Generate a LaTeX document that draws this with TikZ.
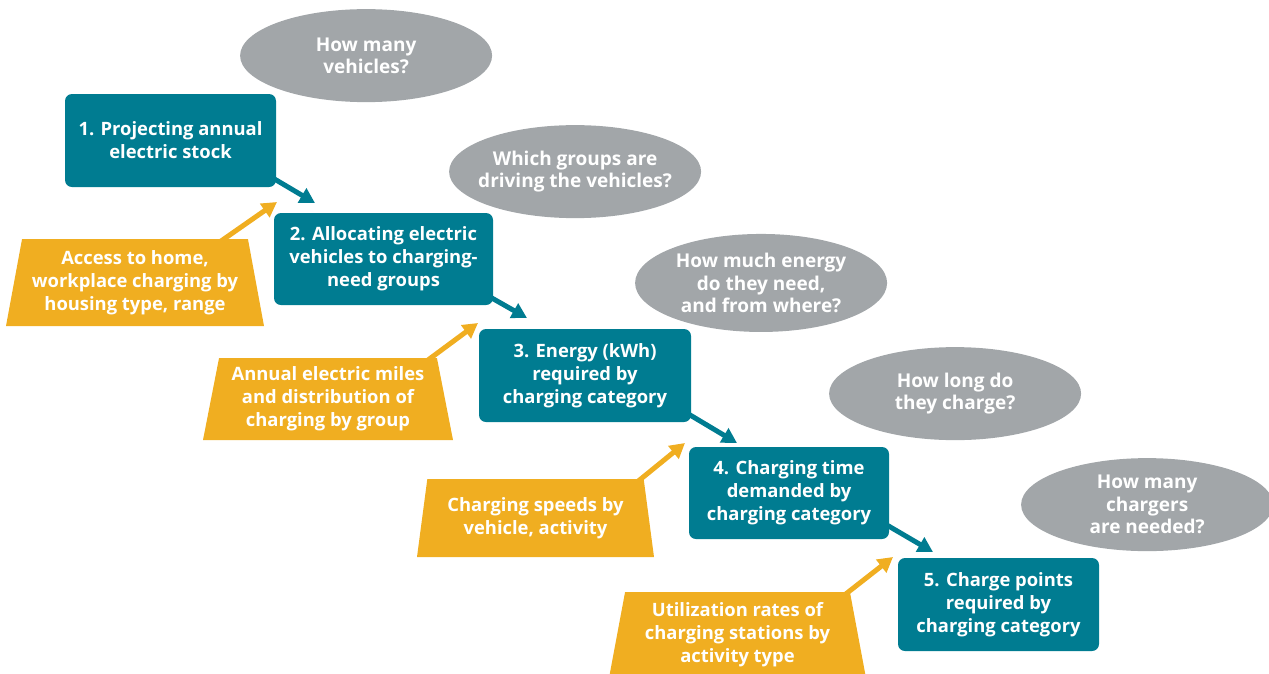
\documentclass[tikz,border=0pt]{standalone}
\usepackage{fontspec}
\setmainfont{Open Sans}
\usetikzlibrary{positioning, shapes.geometric, arrows.meta}
\definecolor{stepteal}{RGB}{0,124,145}
\definecolor{askgray}{RGB}{162,166,169}
\definecolor{inputgold}{RGB}{240,174,33}
\tikzset{
	every node/.append style={
		inner sep=0pt,
		outer sep=0pt,
		text=white,
		align=center,
		font={\fontsize{18.4}{23}\selectfont\bfseries},
	},
	stepbox/.append style={
		fill=stepteal,
		rounded corners=7pt,
		minimum height=93pt,
	},
	askbubble/.append style={
		ellipse,
		fill=askgray,
		minimum width=252pt,
		minimum height=93pt,
		inner xsep=-18pt,
		font={\fontsize{19}{22.5}\selectfont\bfseries},
	},
	inputbox/.append style={
		trapezium,
		trapezium stretches body=true,
		trapezium left angle=76,
		trapezium right angle=76,
		fill=inputgold,
	},
	flow/.append style={
		draw=stepteal,
		line width=5pt,
		-{Triangle[width=16pt,length=15pt]},
	},
	feed/.append style={
		draw=inputgold,
		line width=5pt,
		-{Triangle[width=16pt,length=15pt]},
	},
}

\begin{document}
\begin{tikzpicture}[x=1pt,y=-1pt]
\useasboundingbox (0,0) rectangle (1269,673);

% the five steps
\node(proj)[stepbox, minimum width=211pt] at (170.5,140.5) {1. Projecting annual\\electric stock};
\node(alloc)[stepbox, minimum width=219pt, minimum height=92pt, below right=26pt and -2pt of proj] {2. Allocating electric\\vehicles to charging-\\need groups};
\node(energy)[stepbox, minimum width=212pt, below right=24pt and -14pt of alloc] {3. Energy (kWh)\\required by\\charging category};
\node(time)[stepbox, minimum width=200pt, minimum height=92pt, below right=25pt and -2pt of energy] {4. Charging time\\demanded by\\charging category};
\node(points)[stepbox, minimum width=201pt, below right=19pt and 9pt of time] {5. Charge points\\required by\\charging category};

% questions
\node(howmany)[askbubble, above right=5.5pt and 1pt of proj] {How many\\vehicles?};
\node(which)[askbubble, above right=8.5pt and -7pt of alloc] {Which groups are\\driving the vehicles?};
\node(howmuch)[askbubble, minimum height=98pt, above right=11.4pt and -19pt of energy] {How much energy\\do they need,\\and from where?};
\node(howlong)[askbubble, above right=20.5pt and -23pt of time] {How long do\\they charge?};
\node(howmanych)[askbubble, above right=20.5pt and -41pt of points] {How many\\chargers\\are needed?};

% inputs
\node(access)[inputbox, minimum width=258pt, minimum height=87pt] at (135,282.5) {Access to home,\\workplace charging by\\housing type, range};
\node(miles)[inputbox, minimum width=250pt, minimum height=82pt] at (328,399) {Annual electric miles\\and distribution of\\charging by group};
\node(speeds)[inputbox, minimum width=237pt, minimum height=78pt] at (535.5,518) {Charging speeds by\\vehicle, activity};
\node(util)[inputbox, minimum width=257pt, minimum height=86pt] at (737.5,635) {Utilization rates of\\charging stations by\\activity type};

\draw[flow] ([shift={(-10,-13)}]proj.south east) -- ([shift={(41,-10)}]alloc.north west);
\draw[flow] ([shift={(-10,-12)}]alloc.south east) -- ([shift={(48,-11)}]energy.north west);
\draw[flow] ([shift={(-11,-13)}]energy.south east) -- ([shift={(48,-4)}]time.north west);
\draw[flow] ([shift={(-9,-18)}]time.south east) -- ([shift={(35,-6)}]points.north west);

\draw[feed] ([shift={(-34,7)}]access.top right corner) -- ([shift={(3,-11)}]alloc.north west);
\draw[feed] ([shift={(-13,5)}]miles.top right corner) -- ([shift={(-1,-6)}]energy.north west);
\draw[feed] ([shift={(-9,5)}]speeds.top right corner) -- ([shift={(-4,-4)}]time.north west);
\draw[feed] ([shift={(-8,5)}]util.top right corner) -- ([shift={(-5,-1)}]points.north west);

\end{tikzpicture}
\end{document}
